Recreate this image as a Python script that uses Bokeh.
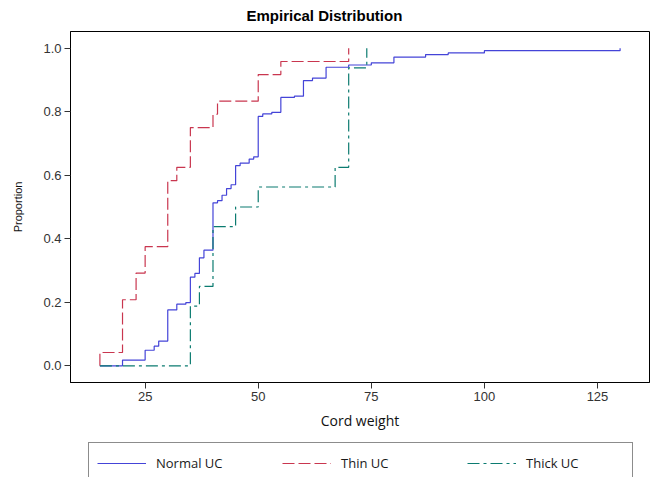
from bokeh.plotting import figure
from bokeh.layouts import column
from bokeh.models import (Range1d, FixedTicker, NumeralTickFormatter, Legend,
                          LegendItem)
from bokeh.embed import file_html
from bokeh.resources import INLINE

# ---- data ----
normal_x = [15, 20, 25, 27, 28, 30, 32, 34, 35, 36, 37, 38, 40, 41, 42, 43, 44,
            45, 46, 48, 49, 50, 51, 53, 55, 58, 60, 62, 65, 70, 75, 80, 87, 92,
            100, 130]
normal_y = [0.0, 0.018, 0.049, 0.062, 0.078, 0.176, 0.194, 0.199, 0.279, 0.291,
            0.340, 0.364, 0.513, 0.520, 0.537, 0.558, 0.570, 0.630, 0.638, 0.651,
            0.658, 0.785, 0.793, 0.798, 0.845, 0.849, 0.898, 0.906, 0.940, 0.947,
            0.954, 0.972, 0.980, 0.985, 0.992, 1.0]

thin_x = [15, 15, 20, 23, 25, 30, 32, 35, 40, 41, 50, 55, 70]
thin_y = [0.0, 0.042, 0.208, 0.292, 0.375, 0.583, 0.625, 0.750, 0.792, 0.833,
          0.917, 0.958, 1.0]

thick_x = [15, 35, 37, 40, 45, 50, 67, 70, 74]
thick_y = [0.0, 0.188, 0.25, 0.438, 0.5, 0.563, 0.625, 0.938, 1.0]

x_ticks = [25, 50, 75, 100, 125]
y_ticks = [0.0, 0.2, 0.4, 0.6, 0.8, 1.0]

series_names = ["Normal UC", "Thin UC", "Thick UC"]
title_text = "Empirical Distribution"
x_label = "Cord weight"
y_label = "Proportion"

BLUE = "#4444d8"
RED = "#c9364f"
TEAL = "#0b7b70"
STYLES = [dict(line_color=BLUE, line_width=1.2),
          dict(line_color=RED, line_width=1.2, line_dash="12 4"),
          dict(line_color=TEAL, line_width=1.2, line_dash="12 4 3 4")]
SERIES = [(normal_x, normal_y), (thin_x, thin_y), (thick_x, thick_y)]

# ---------------- main chart ----------------
p = figure(width=657, height=442, output_backend="svg", toolbar_location=None,
           x_range=Range1d(8.5, 136.5), y_range=Range1d(-0.0525, 1.0525),
           min_border_left=70, min_border_right=8, min_border_top=30,
           min_border_bottom=60, title=title_text)
p.title.text_font = "Liberation Sans"
p.title.text_font_style = "bold"
p.title.text_font_size = "15px"
p.title.text_color = "black"
p.title.align = "left"
p.title.offset = 176
p.title.vertical_align = "top"
p.title.standoff = 12

p.xgrid.visible = False
p.ygrid.visible = False
p.outline_line_color = "black"
p.outline_line_width = 1
p.background_fill_color = "white"
p.border_fill_color = "white"

for ax in (p.xaxis[0], p.yaxis[0]):
    ax.axis_line_color = "black"
    ax.major_tick_line_color = "#333333"
    ax.minor_tick_line_color = None
    ax.major_tick_in = 0
    ax.major_tick_out = 6
    ax.major_label_text_font = "Liberation Sans"
    ax.major_label_text_font_size = "13px"
    ax.major_label_text_color = "#333333"
    ax.axis_label_text_font_style = "normal"
    ax.axis_label_text_color = "#111111"

p.xaxis.ticker = FixedTicker(ticks=x_ticks)
p.yaxis.ticker = FixedTicker(ticks=y_ticks)
p.yaxis.formatter = NumeralTickFormatter(format="0.0")
p.xaxis.major_label_standoff = 3
p.yaxis.major_label_standoff = 3
p.xaxis.axis_label = x_label
p.xaxis.axis_label_text_font = "Open Sans"
p.xaxis.axis_label_text_font_size = "14px"
p.xaxis.axis_label_standoff = 7
p.yaxis.axis_label = y_label
p.yaxis.axis_label_text_font = "Liberation Sans"
p.yaxis.axis_label_text_font_size = "11px"
p.yaxis.axis_label_standoff = 16

for (sx, sy), st in zip(SERIES, STYLES):
    p.step(sx, sy, mode="after", **st)

# ---------------- legend strip (cut off at the bottom like the reference) ----
# its frame is aligned with the main frame (x 70..649) by the column layout;
# the key renderers hold the same series but lie outside this strip's ranges.
lg = figure(width=657, height=35, output_backend="svg", toolbar_location=None,
            x_range=Range1d(-2, -1), y_range=Range1d(-2, -1),
            x_axis_location=None, y_axis_location=None,
            min_border_left=0, min_border_right=0, min_border_top=0,
            min_border_bottom=0)
lg.xgrid.visible = False
lg.ygrid.visible = False
lg.outline_line_color = None
lg.background_fill_color = "white"
lg.border_fill_color = "white"
key_renderers = [lg.step(sx, sy, mode="after", **st)
                 for (sx, sy), st in zip(SERIES, STYLES)]

legend = Legend(
    items=[LegendItem(label=n, renderers=[r])
           for n, r in zip(series_names, key_renderers)],
    orientation="horizontal", location=(18, -7), margin=0, padding=8,
    glyph_width=49, glyph_height=24, label_height=24, label_standoff=10,
    label_width=98, spacing=28,
    label_text_font="Open Sans", label_text_font_size="13px",
    label_text_color="#1a1a1a",
    border_line_color="#1a1a1a", border_line_width=1,
    background_fill_color="white", background_fill_alpha=1.0)
lg.add_layout(legend, "center")

page = column(p, lg, spacing=0)
open("out.html", "w").write(file_html(page, INLINE))
